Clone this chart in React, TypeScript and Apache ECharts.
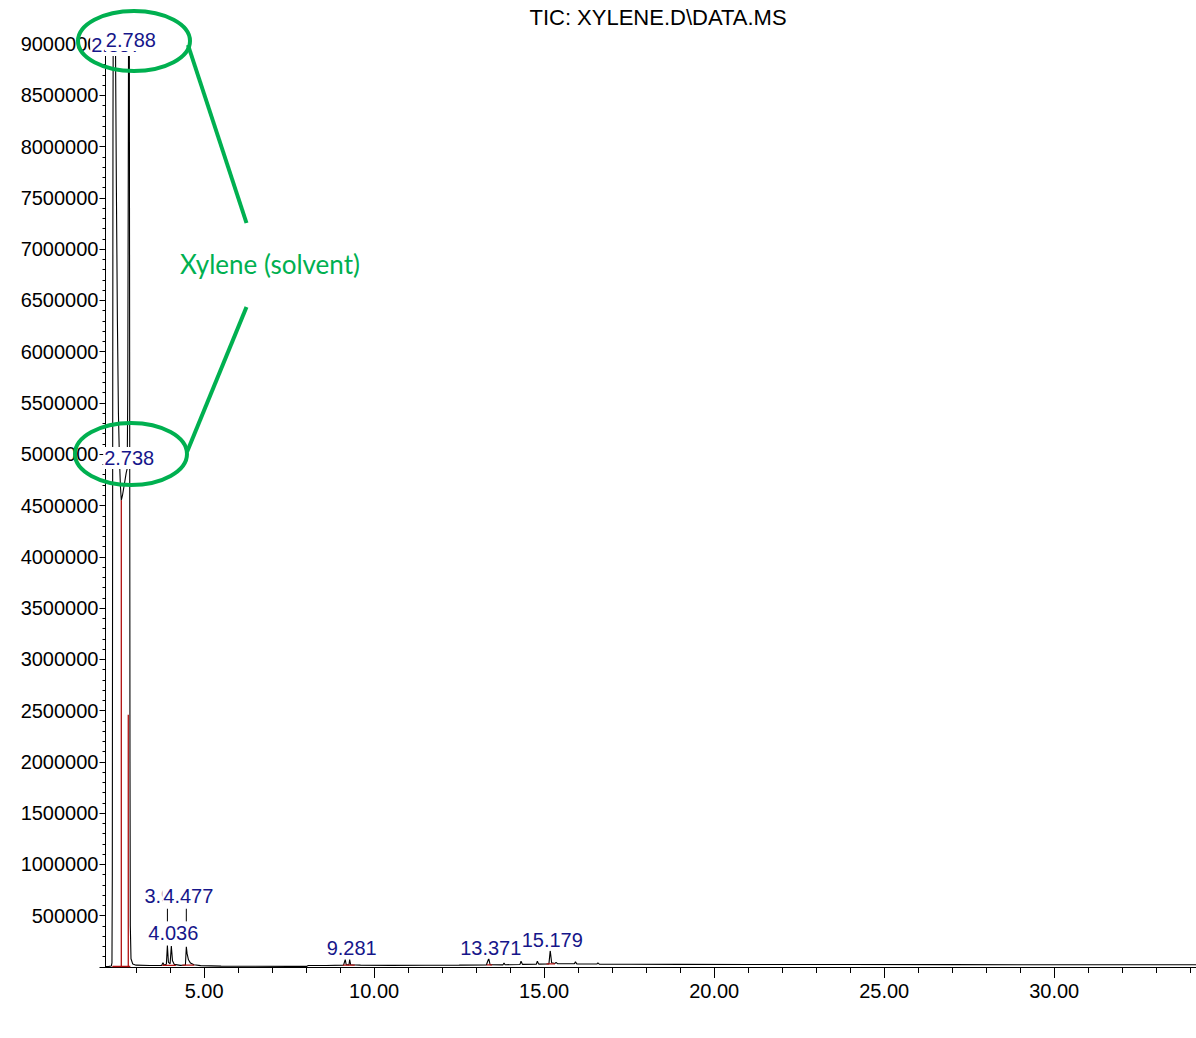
import React, { useEffect, useRef } from 'react';
import * as echarts from 'echarts';

// Chromatogram (TIC) – retention time (min) and abundance
const ticTimes = [
  2.10, 2.20, 2.27, 2.29, 2.30, 2.31, 2.32, 2.33, 2.36, 2.39, 2.42, 2.45, 2.48, 2.51, 2.54, 2.565,
  2.60, 2.64, 2.68, 2.71, 2.738, 2.755, 2.77, 2.78, 2.788, 2.80, 2.81, 2.82, 2.83, 2.85, 2.90, 3.00,
  3.40, 3.75, 3.79, 3.82, 3.89, 3.92, 3.95, 4.00, 4.036, 4.07, 4.12, 4.30, 4.45, 4.477, 4.50, 4.54,
  4.60, 4.70, 4.90, 5.50, 6.50, 7.50, 8.02, 8.06, 8.60, 9.10, 9.15, 9.18, 9.26, 9.281, 9.31, 9.60,
  10.5, 11.5, 12.5, 13.30, 13.371, 13.41, 13.79, 13.82, 13.85, 14.29, 14.32, 14.36, 14.77, 14.80, 14.84,
  15.14, 15.179, 15.22, 15.32, 15.35, 15.39, 15.89, 15.92, 15.96, 16.55, 16.58, 16.62, 17.5, 19.0,
  21.0, 24.0, 27.0, 30.0, 34.17,
];
const ticAbundance = [
  5000, 6000, 9000, 40000, 900000, 4500000, 8200000, 9600000, 9800000, 9200000, 7600000, 6300000, 5400000, 4950000, 4680000, 4550000,
  4600000, 4680000, 4760000, 4820000, 4860000, 5600000, 7800000, 9500000, 9900000, 9300000, 6000000, 2000000, 400000, 80000, 30000, 18000,
  15000, 15000, 42000, 20000, 26000, 210000, 45000, 32000, 205000, 60000, 26000, 16000, 20000, 196000, 130000, 70000,
  38000, 22000, 13000, 9000, 7000, 6000, 6000, 14000, 15000, 18000, 72000, 22000, 21000, 73000, 22000, 18000,
  16000, 17000, 18000, 20000, 83000, 22000, 21000, 40000, 22000, 25000, 56000, 26000, 27000, 56000, 28000,
  30000, 160000, 42000, 34000, 46000, 33000, 31000, 50000, 30000, 29000, 40000, 28000, 27000, 26000,
  25000, 24000, 23000, 22000, 22000,
];

// Integration marks (red)
const baseStartTimes = [2.30, 3.77, 4.36, 9.08, 13.31, 15.07];
const baseEndTimes = [2.83, 4.17, 4.71, 9.43, 13.47, 15.32];
const baseLevels = [5000, 16000, 18000, 18000, 20000, 30000];
const dropTimes = [2.565, 2.77];
const dropTops = [4550000, 2460000];

// Peak labels
const labelTexts = ['2.357', '2.788', '2.738', '3.921', '4.477', '4.036', '9.281', '13.371', '15.179'];
const labelTimes = [2.357, 2.788, 2.738, 3.921, 4.477, 4.036, 9.281, 13.371, 15.179];
const labelLevels = [8990000, 9040000, 4964000, 696000, 696000, 335000, 188000, 188000, 266000];
const leaderTimes = [3.921, 4.477];
const leaderBottom = 444000;
const leaderTop = 568000;

// Axis ticks
const xMin = 2.1;
const xMax = 34.17;
const majorTicks = [5, 10, 15, 20, 25, 30];
const minorTicks = [3, 4, 6, 7, 8, 9, 11, 12, 13, 14, 16, 17, 18, 19, 21, 22, 23, 24, 26, 27, 28, 29, 31, 32, 33, 34];

const titleText = 'TIC: XYLENE.D\\DATA.MS';
const annotationText = 'Xylene (solvent)';

const GREEN = '#00b050';
const RED = '#b01010';
const NAVY = '#16168a';
const FONT = 'Liberation Sans, Arial, sans-serif';

export default function App() {
  const ref = useRef<HTMLDivElement>(null);

  useEffect(() => {
    if (!ref.current) return;
    const chart = echarts.init(ref.current, undefined, { renderer: 'svg' });

    const ticData = ticTimes.map((t, i) => [t, ticAbundance[i]]);

    const redSeries: any[] = [];
    baseStartTimes.forEach((s, i) => {
      redSeries.push({
        type: 'line', z: 4, symbol: 'none', silent: true,
        lineStyle: { color: RED, width: 1.3 },
        data: [[s, baseLevels[i]], [baseEndTimes[i], baseLevels[i]]],
      });
    });
    dropTimes.forEach((t, i) => {
      redSeries.push({
        type: 'line', z: 4, symbol: 'none', silent: true,
        lineStyle: { color: RED, width: 1.3 },
        data: [[t, 0], [t, dropTops[i]]],
      });
    });
    const leaderSeries = leaderTimes.map((t) => ({
      type: 'line', z: 5, symbol: 'none', silent: true,
      lineStyle: { color: '#000', width: 1 },
      data: [[t, leaderBottom], [t, leaderTop]],
    }));

    const option: any = {
      animation: false,
      backgroundColor: '#ffffff',
      grid: { left: 105.5, right: 0, top: 44, bottom: 71, containLabel: false, outerBoundsMode: 'none' },
      xAxis: [
        {
          type: 'value', min: xMin, max: xMax, position: 'bottom',
          axisLine: { show: true, onZero: false, lineStyle: { color: '#000', width: 1 } },
          axisTick: { show: true, customValues: majorTicks, length: 11, lineStyle: { color: '#000', width: 1 } },
          axisLabel: {
            customValues: majorTicks, color: '#000', fontSize: 20, fontFamily: FONT, margin: 14,
            formatter: (v: number) => v.toFixed(2),
          },
          splitLine: { show: false },
        },
        {
          type: 'value', min: xMin, max: xMax, position: 'bottom', gridIndex: 0,
          axisLine: { show: false, onZero: false },
          axisTick: { show: true, customValues: minorTicks, length: 6, lineStyle: { color: '#000', width: 1 } },
          axisLabel: { show: false },
          splitLine: { show: false },
        },
      ],
      yAxis: {
        type: 'value', min: 0, max: 9000000, interval: 500000,
        axisLine: { show: true, lineStyle: { color: '#000', width: 1 } },
        axisTick: { show: true, length: 6, lineStyle: { color: '#000', width: 1 } },
        minorTick: { show: true, splitNumber: 5, length: 3, lineStyle: { color: '#000', width: 1 } },
        axisLabel: {
          color: '#000', fontSize: 20, fontFamily: FONT, margin: 7,
          formatter: (v: number) => (v === 0 ? '' : String(v)),
        },
        splitLine: { show: false },
      },
      series: [
        {
          type: 'line', z: 3, symbol: 'none', silent: true,
          lineStyle: { color: '#000', width: 1.1 },
          data: ticData,
        },
        ...redSeries,
        ...leaderSeries,
        {
          type: 'scatter', z: 10, clip: false, symbolSize: 0.1, silent: true,
          itemStyle: { color: '#ffffff', opacity: 1 },
          label: {
            show: true, position: 'inside', offset: [2, 0], color: NAVY, opacity: 1, fontSize: 20, fontFamily: FONT,
            backgroundColor: '#ffffff', padding: [0, 1, 2, 1],
            formatter: (p: any) => labelTexts[p.dataIndex],
          },
          data: labelTimes.map((t, i) => [t, labelLevels[i]]),
        },
      ],
      graphic: [
        {
          type: 'text', z: 100, x: 658, y: 17,
          style: { text: titleText, fill: '#000', font: `22px ${FONT}`, textAlign: 'center', textVerticalAlign: 'middle' },
        },
        {
          type: 'ellipse', z: 100, shape: { cx: 134, cy: 41, rx: 56, ry: 30 },
          style: { fill: 'none', stroke: GREEN, lineWidth: 4 },
        },
        {
          type: 'ellipse', z: 100, shape: { cx: 131, cy: 454, rx: 56, ry: 31 },
          style: { fill: 'none', stroke: GREEN, lineWidth: 4 },
        },
        {
          type: 'line', z: 100, shape: { x1: 188, y1: 45, x2: 246.5, y2: 223 },
          style: { stroke: GREEN, lineWidth: 4 },
        },
        {
          type: 'line', z: 100, shape: { x1: 246.5, y1: 307, x2: 187, y2: 452 },
          style: { stroke: GREEN, lineWidth: 4 },
        },
        {
          type: 'text', z: 100, x: 270, y: 264,
          style: { text: annotationText, fill: GREEN, font: '26px Lato, "Open Sans", sans-serif', textAlign: 'center', textVerticalAlign: 'middle' },
        },
      ],
    };

    chart.setOption(option);
    return () => chart.dispose();
  }, []);

  return (
    <div
      ref={ref}
      style={{ position: 'fixed', left: 0, top: 0, width: 1196, height: 1038, background: '#fff' }}
    />
  );
}
